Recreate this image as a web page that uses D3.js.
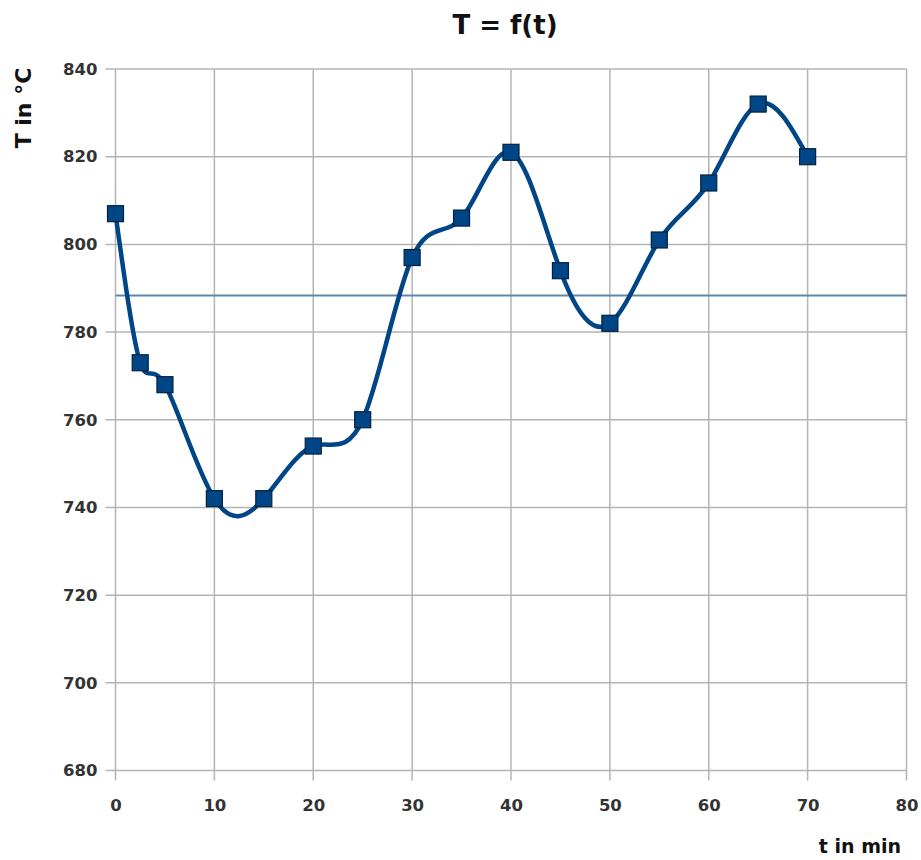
<!DOCTYPE html>
<html>
<head>
<meta charset="utf-8">
<script src="https://cdn.jsdelivr.net/npm/d3@7"></script>
<style>
  html, body { margin: 0; padding: 0; background: #fff; }
  svg { display: block; }
  text { font-family: "DejaVu Sans", sans-serif; font-weight: bold; }
</style>
</head>
<body>
<svg id="chart" width="921" height="860"></svg>
<script>
// ---- data ----
const times = [0, 2.5, 5, 10, 15, 20, 25, 30, 35, 40, 45, 50, 55, 60, 65, 70];
const temps = [807, 773, 768, 742, 742, 754, 760, 797, 806, 821, 794, 782, 801, 814, 832, 820];
const xTicks = [0, 10, 20, 30, 40, 50, 60, 70, 80];
const yTicks = [680, 700, 720, 740, 760, 780, 800, 820, 840];
const titleText = "T = f(t)";
const xTitle = "t in min";
const yTitle = "T in °C";

const meanValue = d3.mean(temps);
const data = times.map((t, i) => ({ t, v: temps[i] }));

// ---- layout ----
const svg = d3.select("#chart");
const plotL = 115.5, plotR = 906.5, plotT = 69, plotB = 770.5;

const x = d3.scaleLinear().domain([0, 80]).range([plotL, plotR]);
const y = d3.scaleLinear().domain([680, 840]).range([plotB, plotT]);

const gridColor = "#b4b4b4";

// grid lines (vertical)
svg.append("g").selectAll("line").data(xTicks).join("line")
  .attr("x1", d => x(d)).attr("x2", d => x(d))
  .attr("y1", plotT).attr("y2", plotB + 10)
  .attr("stroke", gridColor).attr("stroke-width", 1.5);

// grid lines (horizontal)
svg.append("g").selectAll("line").data(yTicks).join("line")
  .attr("x1", plotL - 10).attr("x2", plotR)
  .attr("y1", d => y(d)).attr("y2", d => y(d))
  .attr("stroke", gridColor).attr("stroke-width", 1.5);

// axes labels via d3 axes (no domain line, no tick lines)
const xAxis = svg.append("g")
  .attr("transform", `translate(0,${plotB})`)
  .call(d3.axisBottom(x).tickValues(xTicks).tickSize(0).tickPadding(29));
xAxis.select(".domain").remove();
xAxis.selectAll("text")
  .style("font-family", '"DejaVu Sans", sans-serif')
  .style("font-weight", "bold")
  .style("font-size", "16.5px")
  .attr("fill", "#333");

const yAxis = svg.append("g")
  .attr("transform", `translate(${plotL},0)`)
  .call(d3.axisLeft(y).tickValues(yTicks).tickSize(0).tickPadding(18));
yAxis.select(".domain").remove();
yAxis.selectAll("text")
  .style("font-family", '"DejaVu Sans", sans-serif')
  .style("font-weight", "bold")
  .style("font-size", "16.5px")
  .attr("fill", "#333");

// mean value line
svg.append("line")
  .attr("x1", x(0)).attr("x2", x(80))
  .attr("y1", y(meanValue)).attr("y2", y(meanValue))
  .attr("stroke", "#5c88b0").attr("stroke-width", 2);

// series curve
const line = d3.line()
  .x(d => x(d.t)).y(d => y(d.v))
  .curve(d3.curveNatural);

svg.append("path")
  .datum(data)
  .attr("d", line)
  .attr("fill", "none")
  .attr("stroke", "#004586")
  .attr("stroke-width", 4.5)
  .attr("stroke-linejoin", "round");

// markers
const ms = 16;
svg.append("g").selectAll("rect").data(data).join("rect")
  .attr("x", d => x(d.t) - ms / 2)
  .attr("y", d => y(d.v) - ms / 2)
  .attr("width", ms).attr("height", ms)
  .attr("fill", "#004586")
  .attr("stroke", "#00213f")
  .attr("stroke-width", 1.2);

// titles
svg.append("text")
  .attr("x", 505).attr("y", 34)
  .attr("text-anchor", "middle")
  .style("font-size", "26px")
  .attr("fill", "#111")
  .text(titleText);

svg.append("text")
  .attr("transform", "translate(31,108) rotate(-90)")
  .attr("text-anchor", "middle")
  .style("font-size", "22px")
  .attr("fill", "#111")
  .text(yTitle);

svg.append("text")
  .attr("x", 901).attr("y", 853)
  .attr("text-anchor", "end")
  .style("font-size", "19px")
  .attr("fill", "#111")
  .text(xTitle);
</script>
</body>
</html>
